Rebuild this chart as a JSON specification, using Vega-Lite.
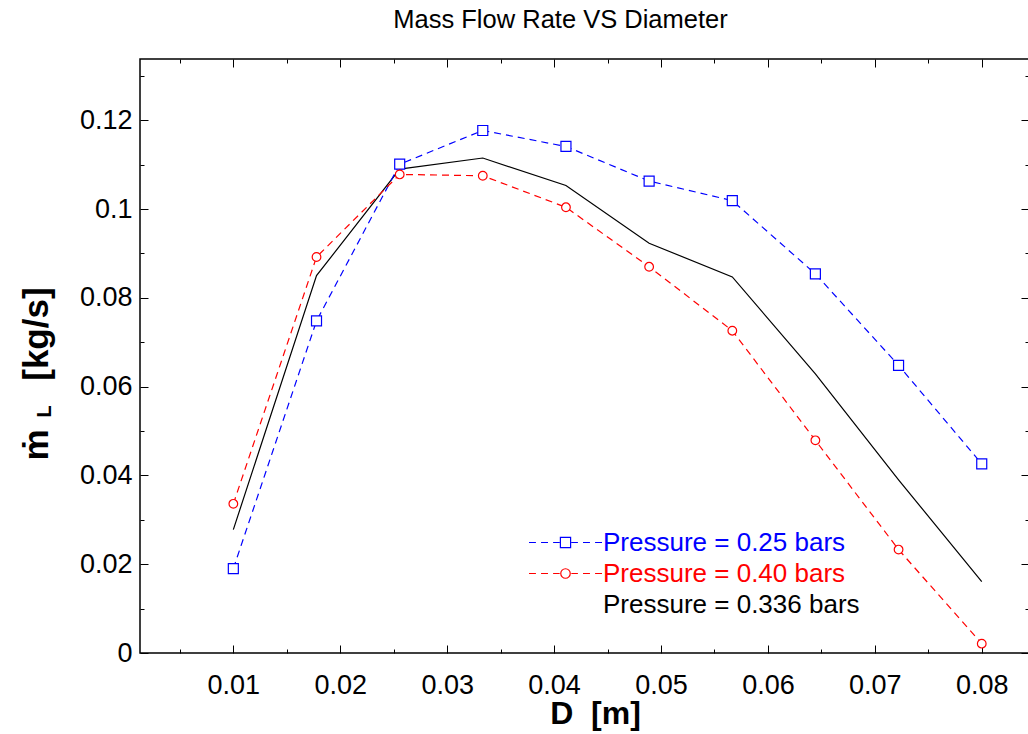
{
  "$schema": "https://vega.github.io/schema/vega-lite/v6.json",
  "width": 889,
  "height": 594,
  "autosize": {"type": "none"},
  "padding": {"left": 140, "top": 59, "right": 0, "bottom": 81},
  "background": "white",
  "config": {
    "view": {"stroke": "black", "strokeWidth": 1.5},
    "axis": {
      "domain": false,
      "grid": false,
      "tickColor": "black",
      "tickWidth": 1,
      "labelColor": "black",
      "titleColor": "black",
      "labelFont": "Liberation Sans",
      "titleFont": "Liberation Sans, DejaVu Sans",
      "labelFlush": false,
      "labelOverlap": false,
      "labelBound": false
    }
  },
  "data": {
    "values": [
      {"D": 0.01, "m": 0.019, "series": "0.25"},
      {"D": 0.01778, "m": 0.0748, "series": "0.25"},
      {"D": 0.02556, "m": 0.1101, "series": "0.25"},
      {"D": 0.03333, "m": 0.1177, "series": "0.25"},
      {"D": 0.04111, "m": 0.1141, "series": "0.25"},
      {"D": 0.04889, "m": 0.1063, "series": "0.25"},
      {"D": 0.05667, "m": 0.1019, "series": "0.25"},
      {"D": 0.06444, "m": 0.0854, "series": "0.25"},
      {"D": 0.07222, "m": 0.0648, "series": "0.25"},
      {"D": 0.08, "m": 0.0426, "series": "0.25"},
      {"D": 0.01, "m": 0.0336, "series": "0.40"},
      {"D": 0.01778, "m": 0.0892, "series": "0.40"},
      {"D": 0.02556, "m": 0.1078, "series": "0.40"},
      {"D": 0.03333, "m": 0.1075, "series": "0.40"},
      {"D": 0.04111, "m": 0.1004, "series": "0.40"},
      {"D": 0.04889, "m": 0.087, "series": "0.40"},
      {"D": 0.05667, "m": 0.0726, "series": "0.40"},
      {"D": 0.06444, "m": 0.0479, "series": "0.40"},
      {"D": 0.07222, "m": 0.0233, "series": "0.40"},
      {"D": 0.08, "m": 0.0021, "series": "0.40"},
      {"D": 0.01, "m": 0.0278, "series": "0.336"},
      {"D": 0.01778, "m": 0.085, "series": "0.336"},
      {"D": 0.02556, "m": 0.109, "series": "0.336"},
      {"D": 0.03333, "m": 0.1115, "series": "0.336"},
      {"D": 0.04111, "m": 0.1053, "series": "0.336"},
      {"D": 0.04889, "m": 0.0923, "series": "0.336"},
      {"D": 0.05667, "m": 0.0847, "series": "0.336"},
      {"D": 0.06444, "m": 0.0629, "series": "0.336"},
      {"D": 0.07222, "m": 0.039, "series": "0.336"},
      {"D": 0.08, "m": 0.0161, "series": "0.336"}
    ]
  },
  "layer": [
    {
      "transform": [{"filter": "datum.series === '0.336'"}],
      "mark": {"type": "line", "color": "black", "strokeWidth": 1.2},
      "encoding": {
        "x": {
          "field": "D", "type": "quantitative",
          "scale": {"domain": [0.00127, 0.08442], "nice": false, "zero": false},
          "axis": {
            "orient": "bottom",
            "values": [0.01, 0.02, 0.03, 0.04, 0.05, 0.06, 0.07, 0.08],
            "format": "~g",
            "tickSize": -8,
            "labelFontSize": 27,
            "labelPadding": 48,
            "labelBaseline": "alphabetic",
            "title": "D\u00a0\u00a0[m]",
            "titleFontSize": 32,
            "titleFontWeight": "bold",
            "titleX": 455,
            "titleY": 70,
            "titleAlign": "center",
            "titleBaseline": "alphabetic"
          }
        },
        "y": {
          "field": "m", "type": "quantitative",
          "scale": {"domain": [0, 0.1338], "nice": false, "zero": false},
          "axis": {
            "orient": "left",
            "values": [0, 0.02, 0.04, 0.06, 0.08, 0.1, 0.12],
            "format": "~g",
            "tickSize": -8,
            "labelFontSize": 27,
            "labelPadding": 16,
            "labelBaseline": "middle",
            "title": "ṁ\u00a0\u00a0\u00a0\u00a0\u00a0[kg/s]",
            "titleFontSize": 35,
            "titleFontWeight": "bold",
            "titleAngle": 270,
            "titleAlign": "left",
            "titleBaseline": "alphabetic",
            "titleX": -93,
            "titleY": 401
          }
        }
      }
    },
    {
      "transform": [{"filter": "datum.series === '0.25'"}],
      "mark": {"type": "line", "color": "#0000ff", "strokeWidth": 1.2, "strokeDash": [7, 5]},
      "encoding": {
        "x": {
          "field": "D", "type": "quantitative",
          "axis": {
            "orient": "top",
            "values": [0.01, 0.02, 0.03, 0.04, 0.05, 0.06, 0.07, 0.08],
            "tickSize": -8,
            "labels": false,
            "title": "Mass Flow Rate VS Diameter",
            "titleFont": "Liberation Sans",
            "titleFontSize": 25.5,
            "titleFontWeight": "normal",
            "titleX": 420,
            "titleY": -32,
            "titleAlign": "center",
            "titleBaseline": "alphabetic"
          }
        },
        "y": {
          "field": "m", "type": "quantitative",
          "axis": {"orient": "right", "values": [0, 0.02, 0.04, 0.06, 0.08, 0.1, 0.12], "tickSize": -8, "labels": false, "title": null}
        }
      }
    },
    {
      "transform": [{"filter": "datum.series === '0.40'"}],
      "mark": {"type": "line", "color": "#ff0000", "strokeWidth": 1.2, "strokeDash": [7, 5]},
      "encoding": {
        "x": {
          "field": "D", "type": "quantitative",
          "axis": {"orient": "bottom", "values": [0.005, 0.015, 0.025, 0.035, 0.045, 0.055, 0.065, 0.075], "tickSize": -4, "labels": false, "title": null}
        },
        "y": {
          "field": "m", "type": "quantitative",
          "axis": {
            "orient": "left",
            "values": [0.01, 0.03, 0.05, 0.07, 0.09, 0.11, 0.13],
            "tickSize": -4,
            "labels": false,
            "title": "L",
            "titleFontSize": 20,
            "titleFontWeight": "bold",
            "titleAngle": 270,
            "titleAlign": "left",
            "titleBaseline": "alphabetic",
            "titleX": -90,
            "titleY": 358
          }
        }
      }
    },
    {
      "transform": [{"filter": "datum.series === '0.25'"}],
      "mark": {"type": "point", "shape": "square", "size": 100, "filled": true, "fill": "white", "stroke": "#0000ff", "strokeWidth": 1.2, "opacity": 1},
      "encoding": {
        "x": {
          "field": "D", "type": "quantitative",
          "axis": {"orient": "top", "values": [0.005, 0.015, 0.025, 0.035, 0.045, 0.055, 0.065, 0.075], "tickSize": -4, "labels": false, "title": null}
        },
        "y": {
          "field": "m", "type": "quantitative",
          "axis": {"orient": "right", "values": [0.01, 0.03, 0.05, 0.07, 0.09, 0.11, 0.13], "tickSize": -4, "labels": false, "title": null}
        }
      }
    },
    {
      "transform": [{"filter": "datum.series === '0.40'"}],
      "mark": {"type": "point", "shape": "circle", "size": 75, "filled": true, "fill": "white", "stroke": "#ff0000", "strokeWidth": 1.2, "opacity": 1},
      "encoding": {
        "x": {"field": "D", "type": "quantitative", "axis": null},
        "y": {"field": "m", "type": "quantitative", "axis": null}
      }
    },
    {
      "mark": {"type": "point", "filled": false, "opacity": 0},
      "encoding": {
        "x": {"field": "D", "type": "quantitative", "axis": null},
        "y": {"field": "m", "type": "quantitative", "axis": null},
        "shape": {
          "field": "series", "type": "nominal",
          "scale": {
            "domain": ["0.25", "0.40", "0.336"],
            "range": [
              "M-1,0H-0.81M-0.67,0H-0.48M-0.34,0H-0.16M-0.14,-0.14H0.14V0.14H-0.14ZM0.16,0H0.34M0.48,0H0.67M0.81,0H1",
              "M-1,0H-0.81M-0.67,0H-0.48M-0.34,0H-0.16M0.13,0A0.13,0.13,0,1,1,-0.13,0A0.13,0.13,0,1,1,0.13,0M0.16,0H0.34M0.48,0H0.67M0.81,0H1",
              "M-1,0H1"
            ]
          },
          "legend": {
            "title": null,
            "orient": "none",
            "legendX": 388,
            "legendY": 471,
            "padding": 0,
            "clipHeight": 25,
            "symbolSize": 5329,
            "symbolStrokeWidth": 1.2,
            "symbolOpacity": 1,
            "symbolFillColor": "transparent",
            "labelFontSize": 26,
            "labelFont": "Liberation Sans",
            "labelOffset": 0,
            "labelLimit": 500,
            "rowPadding": 4,
            "labelExpr": "'Pressure = ' + datum.label + ' bars'",
            "encoding": {
              "labels": {
                "fill": {"value": {"expr": "datum.value === '0.25' ? '#0000ff' : datum.value === '0.40' ? '#ff0000' : '#000000'"}}
              },
              "symbols": {
                "stroke": {"value": {"expr": "datum.value === '0.25' ? '#0000ff' : datum.value === '0.40' ? '#ff0000' : 'transparent'"}},
                "fill": {"value": "transparent"},
                "opacity": {"value": 1},
                "strokeOpacity": {"value": 1}
              }
            }
          }
        }
      }
    }
  ],
  "resolve": {"axis": {"x": "independent", "y": "independent"}}
}
